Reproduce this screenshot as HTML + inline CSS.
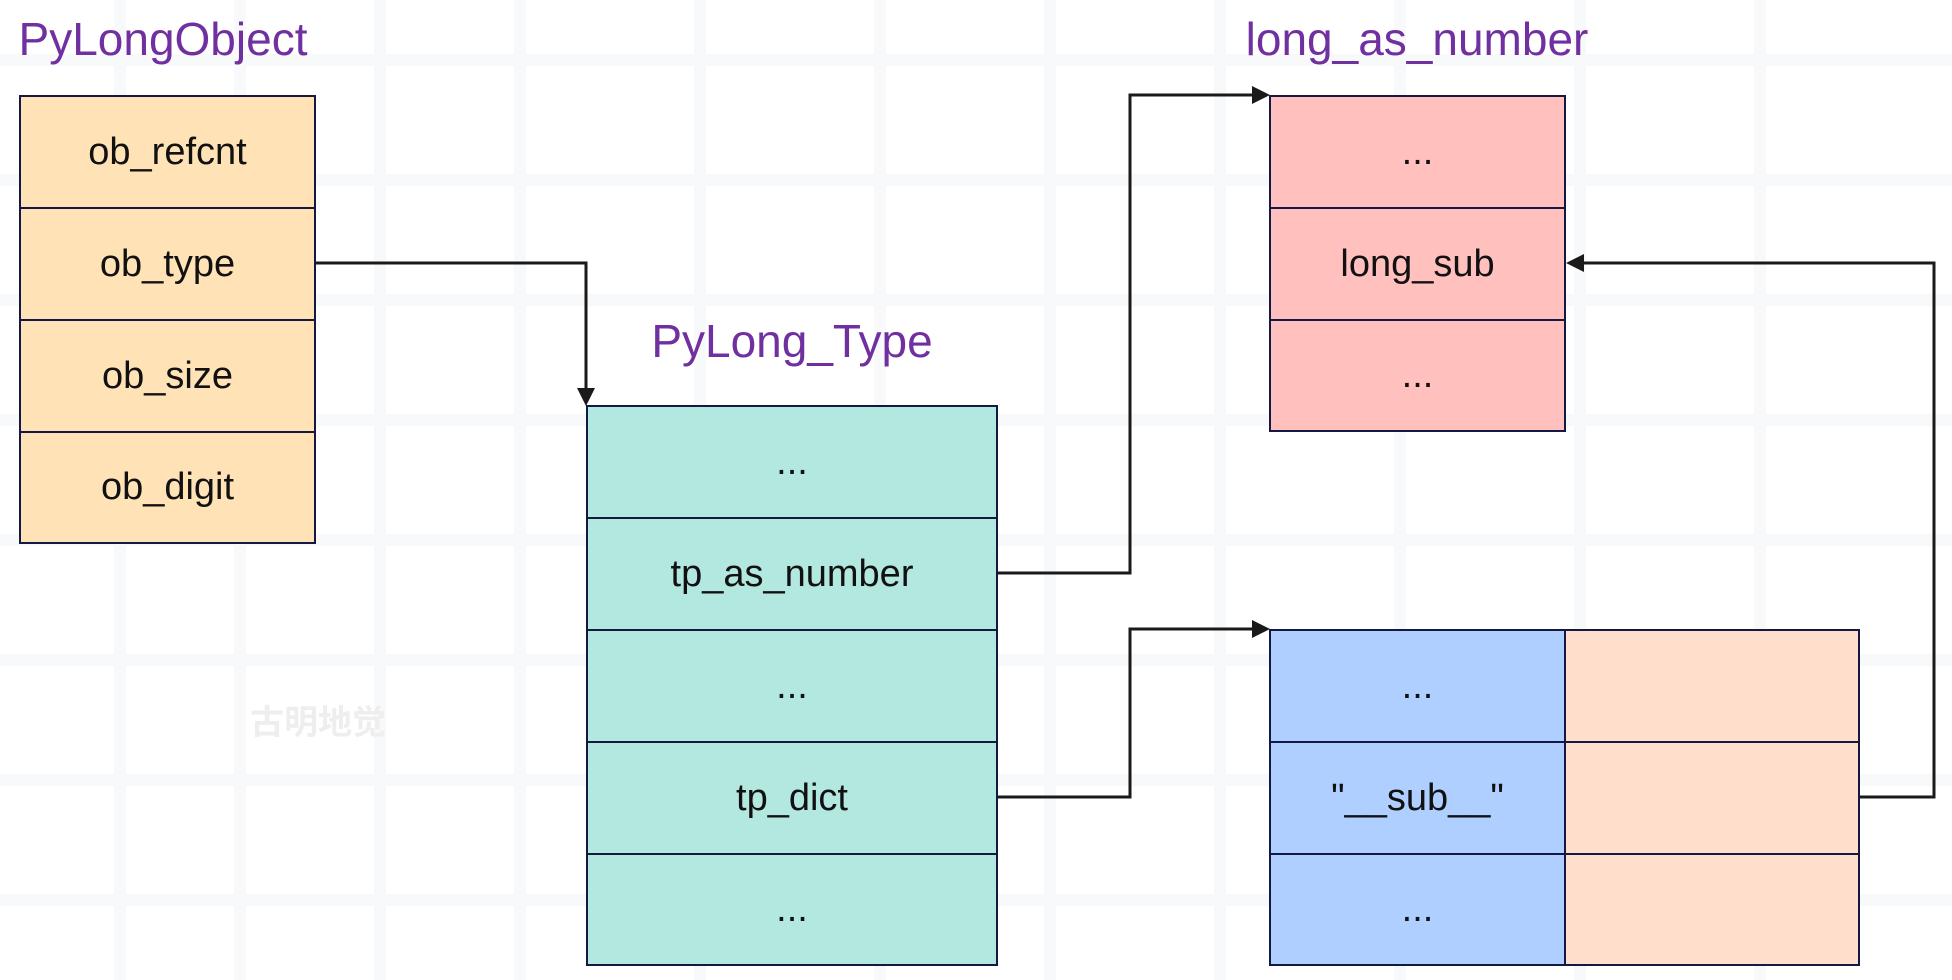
<!DOCTYPE html>
<html><head><meta charset="utf-8"><style>
body{margin:0;width:1952px;height:980px;background:#fff;position:relative;overflow:hidden;font-family:"Liberation Sans",sans-serif}
.t{position:absolute;color:#7030a0;font-size:46px;transform:translateX(-50%);white-space:nowrap}
.c{position:absolute;box-sizing:border-box;border:2px solid #141845;display:flex;align-items:center;justify-content:center;font-size:38px;color:#111}
</style></head><body>
<svg width="1952" height="980" style="position:absolute;left:0;top:0">
<g stroke="#f7f9fa" stroke-width="12">
<line x1="0" y1="60" x2="1952" y2="60"/><line x1="0" y1="180" x2="1952" y2="180"/><line x1="0" y1="300" x2="1952" y2="300"/><line x1="0" y1="420" x2="1952" y2="420"/><line x1="0" y1="540" x2="1952" y2="540"/><line x1="0" y1="660" x2="1952" y2="660"/><line x1="0" y1="780" x2="1952" y2="780"/><line x1="0" y1="900" x2="1952" y2="900"/>
<line x1="120" y1="0" x2="120" y2="980"/><line x1="240" y1="0" x2="240" y2="980"/><line x1="380" y1="0" x2="380" y2="980"/><line x1="520" y1="0" x2="520" y2="980"/><line x1="700" y1="0" x2="700" y2="980"/><line x1="880" y1="0" x2="880" y2="980"/><line x1="1050" y1="0" x2="1050" y2="980"/><line x1="1220" y1="0" x2="1220" y2="980"/><line x1="1400" y1="0" x2="1400" y2="980"/><line x1="1580" y1="0" x2="1580" y2="980"/><line x1="1760" y1="0" x2="1760" y2="980"/>
</g>
<g stroke="#1a1a1a" stroke-width="3" fill="none">
<polyline points="315,263 586,263 586,392"/>
<polyline points="997,573 1130,573 1130,95 1256,95"/>
<polyline points="997,797 1130,797 1130,629 1256,629"/>
<polyline points="1859,797 1934,797 1934,263 1580,263"/>
</g>
<g fill="#1a1a1a">
<polygon points="577,388 595,388 586,406"/>
<polygon points="1252,86 1252,104 1270,95"/>
<polygon points="1252,620 1252,638 1270,629"/>
<polygon points="1584,254 1584,272 1566,263"/>
</g>
</svg>
<div class="t" style="left:163px;top:12px">PyLongObject</div>
<div class="t" style="left:792px;top:314px">PyLong_Type</div>
<div class="t" style="left:1417px;top:12px">long_as_number</div>
<div style="position:absolute;left:250px;top:695px;font-size:34px;color:#eee;font-family:'Noto Sans CJK SC',sans-serif;font-weight:bold">古明地觉</div>

<div class="c" style="left:19px;top:95px;width:297px;height:114px;background:#ffe2b6">ob_refcnt</div>
<div class="c" style="left:19px;top:207px;width:297px;height:114px;background:#ffe2b6">ob_type</div>
<div class="c" style="left:19px;top:319px;width:297px;height:114px;background:#ffe2b6">ob_size</div>
<div class="c" style="left:19px;top:431px;width:297px;height:113px;background:#ffe2b6">ob_digit</div>

<div class="c" style="left:586px;top:405px;width:412px;height:114px;background:#b3e8e0">...</div>
<div class="c" style="left:586px;top:517px;width:412px;height:114px;background:#b3e8e0">tp_as_number</div>
<div class="c" style="left:586px;top:629px;width:412px;height:114px;background:#b3e8e0">...</div>
<div class="c" style="left:586px;top:741px;width:412px;height:114px;background:#b3e8e0">tp_dict</div>
<div class="c" style="left:586px;top:853px;width:412px;height:113px;background:#b3e8e0">...</div>

<div class="c" style="left:1269px;top:95px;width:297px;height:114px;background:#ffc0be">...</div>
<div class="c" style="left:1269px;top:207px;width:297px;height:114px;background:#ffc0be">long_sub</div>
<div class="c" style="left:1269px;top:319px;width:297px;height:113px;background:#ffc0be">...</div>

<div class="c" style="left:1269px;top:629px;width:297px;height:114px;background:#aecfff">...</div>
<div class="c" style="left:1269px;top:741px;width:297px;height:114px;background:#aecfff">"__sub__"</div>
<div class="c" style="left:1269px;top:853px;width:297px;height:113px;background:#aecfff">...</div>
<div class="c" style="left:1564px;top:629px;width:296px;height:114px;background:#ffdecb"></div>
<div class="c" style="left:1564px;top:741px;width:296px;height:114px;background:#ffdecb"></div>
<div class="c" style="left:1564px;top:853px;width:296px;height:113px;background:#ffdecb"></div>
</body></html>
